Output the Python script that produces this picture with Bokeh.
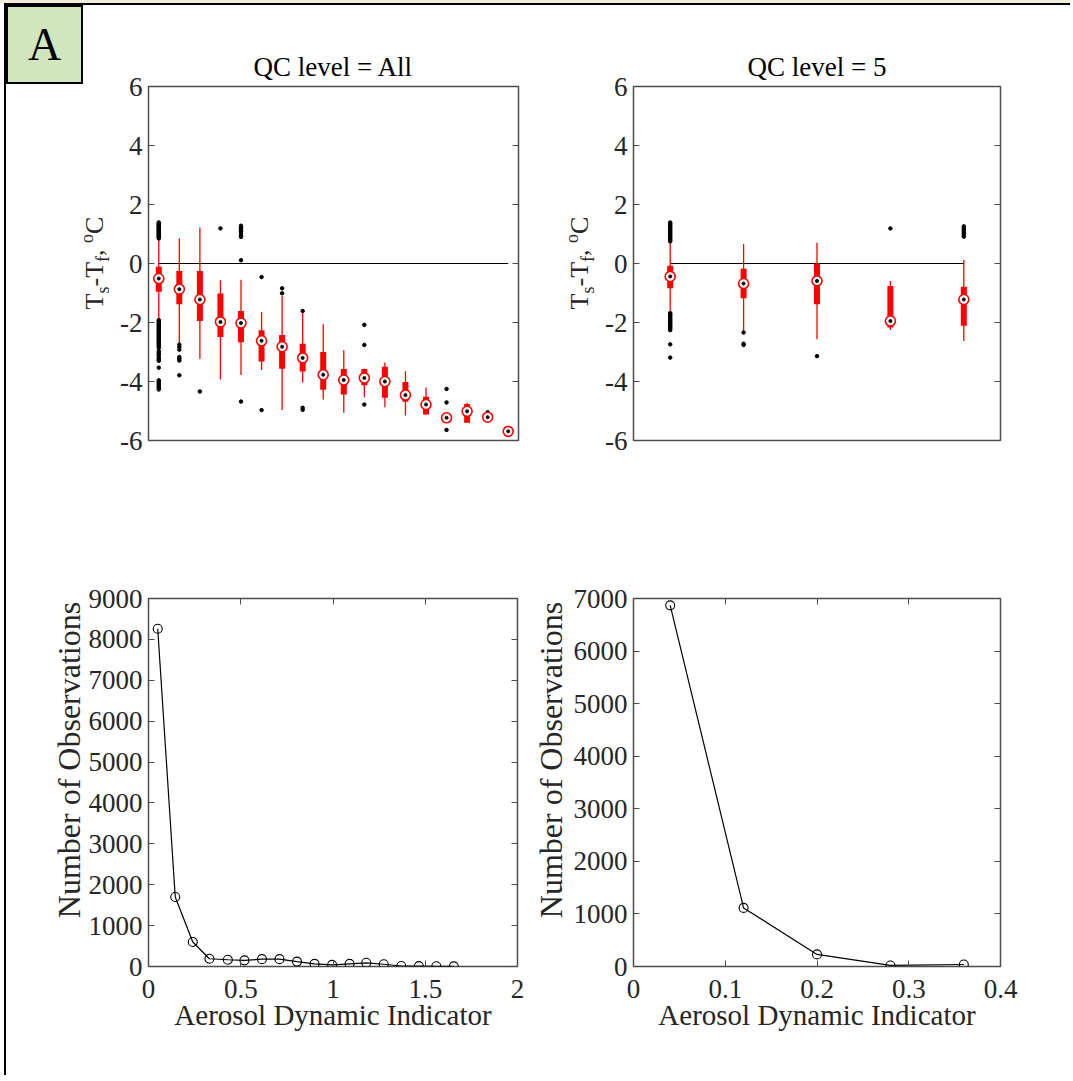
from bokeh.plotting import figure
from bokeh.layouts import row, column
from bokeh.models import (Range1d, LinearAxis, FixedTicker, Div, CustomJSTickFormatter,
                          CustomLabelingPolicy)
from bokeh.embed import file_html
from bokeh.resources import INLINE

# ---------------- data ----------------
# Top-left: T_s - T_f by Aerosol Dynamic Indicator bin, QC level = All
all_pos = [1, 2, 3, 4, 5, 6, 7, 8, 9, 10, 11, 12, 13, 14, 15, 16, 17, 18]
all_whi = [0.83, 0.86, 1.22, -0.57, -0.55, -1.64, -1.10, -1.66, -2.06, -2.94, -3.56, -3.36, -3.65, -4.20, -5.18, -4.72, -5.17, -5.69]
all_q3 = [-0.11, -0.25, -0.25, -1.02, -1.61, -2.26, -2.42, -2.72, -3.00, -3.58, -3.58, -3.50, -4.02, -4.52, -5.18, -4.76, -5.17, -5.69]
all_med = [-0.51, -0.87, -1.22, -1.98, -2.02, -2.62, -2.82, -3.20, -3.77, -3.95, -3.88, -4.00, -4.46, -4.78, -5.23, -5.01, -5.21, -5.69]
all_q1 = [-0.96, -1.38, -1.95, -2.49, -2.67, -3.32, -3.57, -3.66, -4.28, -4.44, -4.13, -4.55, -4.69, -5.12, -5.28, -5.40, -5.25, -5.69]
all_wlo = [-1.89, -2.74, -3.23, -3.93, -3.78, -3.61, -4.97, -4.03, -4.61, -5.06, -4.53, -4.87, -5.15, -5.12, -5.28, -5.40, -5.25, -5.69]
all_out_pos = ([1] * 19 + [1] * 39 + [2] * 7 + [3] + [4] + [5] * 10 + [6] * 2 + [7] * 2 + [8] * 3
               + [11] * 3 + [15] * 3 + [17])
all_out_val = [1.39, 1.36, 1.33, 1.30, 1.27, 1.24, 1.21, 1.18, 1.15, 1.12, 1.09, 1.06, 1.03, 1.00, 0.97, 0.94, 0.91, 0.88, 0.85,
               -1.92, -1.96, -2.00, -2.04, -2.08, -2.12, -2.16, -2.20, -2.24, -2.28, -2.32, -2.36, -2.40, -2.44, -2.48,
               -2.52, -2.56, -2.60, -2.64, -2.68, -2.72, -2.76, -2.80, -2.86, -2.97, -3.02, -3.07, -3.12, -3.20, -3.25,
               -3.30, -3.53, -3.96, -4.02, -4.07, -4.12, -4.17, -4.22, -4.27,
               -2.75, -2.83, -2.92, -3.17, -3.23, -3.29, -3.79,
               -4.34,
               1.19,
               1.28, 1.23, 1.18, 1.13, 1.08, 1.03, 0.95, 0.90, 0.11, -4.68,
               -0.46, -4.97,
               -0.84, -1.01,
               -1.61, -4.89, -4.96,
               -2.08, -2.76, -4.78,
               -4.25, -4.71, -5.64,
               -5.04]

# Top-right: QC level = 5
q5_pos = [1, 2, 3, 4, 5]
q5_whi = [0.74, 0.66, 0.70, -0.59, 0.12]
q5_q3 = [-0.08, -0.18, 0.00, -0.76, -0.79]
q5_med = [-0.44, -0.68, -0.59, -1.95, -1.22]
q5_q1 = [-0.84, -1.18, -1.38, -2.17, -2.11]
q5_wlo = [-1.66, -2.34, -2.57, -2.25, -2.63]
q5_out_pos = [1] * 17 + [1] * 17 + [2] * 3 + [3] + [4] + [5] * 7
q5_out_val = [1.39, 1.35, 1.31, 1.27, 1.23, 1.19, 1.15, 1.11, 1.07, 1.03, 0.99, 0.95, 0.91, 0.87, 0.83, 0.79, 0.75,
              -1.68, -1.72, -1.76, -1.80, -1.84, -1.88, -1.92, -1.96, -2.00, -2.04, -2.08, -2.12, -2.16, -2.20,
              -2.26, -2.74, -3.19,
              -2.34, -2.72, -2.76,
              -3.14,
              1.19,
              1.26, 1.20, 1.14, 1.08, 1.02, 0.96, 0.91]

# Bottom-left: number of observations, QC level = All
nall_adi = [0.05, 0.145, 0.24, 0.33, 0.43, 0.52, 0.615, 0.71, 0.805, 0.90, 0.995, 1.09, 1.18, 1.275, 1.37, 1.465, 1.56, 1.655]
nall_obs = [8260, 1700, 600, 190, 165, 150, 180, 180, 120, 65, 40, 65, 90, 55, 12, 10, 5, 3]

# Bottom-right: number of observations, QC level = 5
n5_adi = [0.04, 0.12, 0.20, 0.28, 0.36]
n5_obs = [6870, 1115, 230, 20, 38]

# tick labels
top_yticks = [-6, -4, -2, 0, 2, 4, 6]
bl_xticks = [0, 0.5, 1, 1.5, 2]
bl_yticks = [0, 1000, 2000, 3000, 4000, 5000, 6000, 7000, 8000, 9000]
br_xticks = [0, 0.1, 0.2, 0.3, 0.4]
br_yticks = [0, 1000, 2000, 3000, 4000, 5000, 6000, 7000]

titles = ["QC level = All", "QC level = 5"]
xlabel = "Aerosol Dynamic Indicator"
ylabel_bottom = "Number of Observations"
ylabel_top_html = ('T<sub style="font-size:18px">s</sub>-T<sub style="font-size:18px">f</sub>, '
                   '<sup style="font-size:18px">o</sup>C')
panel_tag = "A"

# ---------------- style ----------------
FONT = "Liberation Serif"
TXT = "#262626"
AXC = "#4d4d4d"
FMT = "return String(Math.round(tick*10)/10);"
TICK_FS = "27px"


def style_axis(ax, ticks, labels=True, standoff=6):
    ax.ticker = FixedTicker(ticks=ticks)
    ax.major_tick_in = 6
    ax.major_tick_out = 0
    ax.minor_tick_line_color = None
    ax.axis_line_color = None
    ax.major_tick_line_color = AXC
    ax.major_tick_line_width = 1
    ax.major_label_text_font = FONT
    ax.major_label_text_font_size = TICK_FS
    ax.major_label_text_color = TXT
    ax.major_label_standoff = standoff
    if labels:
        ax.formatter = CustomJSTickFormatter(code=FMT)
    else:
        # mirrored tick marks only (MATLAB "box on" look)
        ax.formatter = CustomJSTickFormatter(code="return '';")
        ax.major_label_standoff = 0
        ax.major_label_policy = CustomLabelingPolicy(
            code="for (const i of indices) { indices.unset(i) }\nreturn indices")


def make_fig(xr, yr, bl, fw, br, bt, fh, bb, title, has_x):
    p = figure(x_range=Range1d(*xr), y_range=Range1d(*yr), frame_width=fw, frame_height=fh,
               min_border_left=bl, min_border_right=br, min_border_top=bt, min_border_bottom=bb,
               output_backend="svg", toolbar_location=None,
               x_axis_location="below" if has_x else None, title=title)
    p.grid.visible = False
    p.outline_line_color = AXC
    p.outline_line_width = 1.5
    p.background_fill_color = "white"
    p.border_fill_color = "white"
    if title:
        p.title.align = "center"
        p.title.text_font = FONT
        p.title.text_font_size = "27px"
        p.title.text_font_style = "normal"
        p.title.text_color = "black"
    return p


def add_box(p, pos, whi, q3, med, q1, wlo, opos, oval):
    p.line([pos[0], pos[-1]], [0, 0], line_color="black", line_width=1.2)
    p.segment(x0=pos, y0=wlo, x1=pos, y1=whi, line_color="red", line_width=1.3)
    p.segment(x0=pos, y0=q1, x1=pos, y1=q3, line_color="red", line_width=6)
    p.scatter(opos, oval, size=3.5, color="black")
    p.scatter(pos, med, size=10, marker="circle", line_color="red", fill_color="white", line_width=1.6)
    p.scatter(pos, med, size=3, marker="circle", line_color="black", fill_color="black")


def mirror(p, side, ticks):
    ax = LinearAxis()
    style_axis(ax, ticks, labels=False)
    p.add_layout(ax, side)


def vlabel_html(html, cx, cy, fs):
    return ('<div style="position:absolute;left:%dpx;top:%dpx;transform:translate(-50%%,-50%%) rotate(-90deg);'
            'white-space:nowrap;font-family:\'%s\';font-size:%s;color:%s;line-height:1.1">%s</div>'
            % (cx, cy, FONT, fs, TXT, html))


def side_div(w, h, inner):
    html = '<div style="position:relative;width:%dpx;height:%dpx;overflow:visible">%s</div>' % (w, h, inner)
    return Div(text=html, width=w, height=h, margin=0)


tag_html = ('<div style="position:absolute;left:0px;top:0px;box-sizing:border-box;width:77px;height:79px;'
            'border:2px solid black;background:#d0e6be;display:flex;align-items:center;justify-content:center;'
            'font-family:\'%s\';font-size:46px;color:black;line-height:1">%s</div>' % (FONT, panel_tag))

# top-left
p1 = make_fig((0.5, 18.5), (-6, 6), 38, 370, 40, 81, 354, 80, titles[0], False)
style_axis(p1.yaxis[0], top_yticks)
mirror(p1, "right", top_yticks)
add_box(p1, all_pos, all_whi, all_q3, all_med, all_q1, all_wlo, all_out_pos, all_out_val)
d1 = side_div(104, 515, tag_html + vlabel_html(ylabel_top_html, 90, 258, "26px"))

# top-right
p2 = make_fig((0.5, 5.5), (-6, 6), 38, 367, 70, 81, 354, 80, titles[1], False)
style_axis(p2.yaxis[0], top_yticks)
mirror(p2, "right", top_yticks)
add_box(p2, q5_pos, q5_whi, q5_q3, q5_med, q5_q1, q5_wlo, q5_out_pos, q5_out_val)
d2 = side_div(37, 515, vlabel_html(ylabel_top_html, 23, 258, "26px"))


def obs_fig(xr, yr, bl, fw, br, xt, yt, xs, ys):
    p = make_fig(xr, yr, bl, fw, br, 78, 368, 109, None, True)
    xax = p.xaxis[0]
    yax = p.yaxis[0]
    style_axis(xax, xt, standoff=13)
    style_axis(yax, yt)
    mirror(p, "right", yt)
    mirror(p, "above", xt)
    xax.axis_label = xlabel
    xax.axis_label_text_font = FONT
    xax.axis_label_text_font_size = "29px"
    xax.axis_label_text_font_style = "normal"
    xax.axis_label_text_color = TXT
    xax.axis_label_standoff = -2
    p.line(xs, ys, line_color="black", line_width=1.2)
    p.scatter(xs, ys, size=9, marker="circle", line_color="black", fill_color=None, line_width=1.1)
    return p


p3 = obs_fig((0, 2), (0, 9000), 64, 369, 14, bl_xticks, bl_yticks, nall_adi, nall_obs)
p4 = obs_fig((0, 0.4), (0, 7000), 64, 367, 70, br_xticks, br_yticks, n5_adi, n5_obs)
d3 = side_div(78, 555, vlabel_html(ylabel_bottom, 64, 240, "32px"))
d4 = side_div(38, 555, vlabel_html(ylabel_bottom, 21, 240, "32px"))

grid = column(row(d1, p1, d2, p2, spacing=0), row(d3, p3, d4, p4, spacing=0), spacing=0,
              styles={"border-top": "2px solid black", "border-left": "2px solid black",
                      "margin-left": "4px", "background-color": "white"})
page = column(grid, styles={"border-top": "3px solid #f4ead8", "background-color": "white"})

open("out.html", "w").write(file_html(page, INLINE))
